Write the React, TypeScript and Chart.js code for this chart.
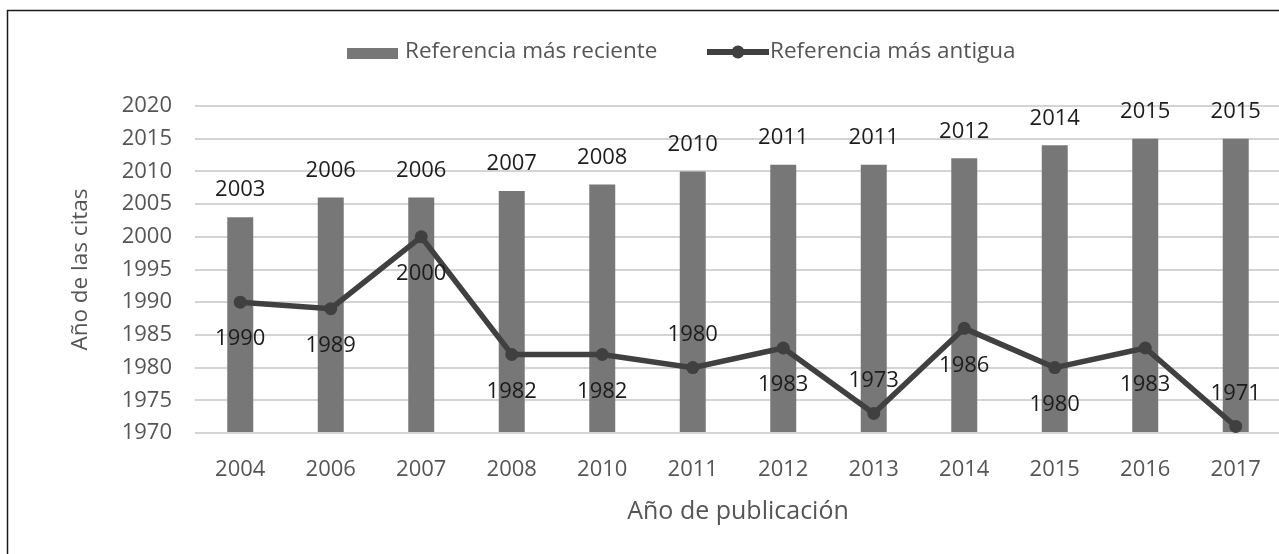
import React, { useEffect, useRef } from "react";
import { Chart, registerables } from "chart.js";

Chart.register(...registerables);

const categories = ["2004", "2006", "2007", "2008", "2010", "2011", "2012", "2013", "2014", "2015", "2016", "2017"];
const recentRefs = [2003, 2006, 2006, 2007, 2008, 2010, 2011, 2011, 2012, 2014, 2015, 2015];
const oldestRefs = [1990, 1989, 2000, 1982, 1982, 1980, 1983, 1973, 1986, 1980, 1983, 1971];
const oldestLabelSide = ["below", "below", "below", "below", "below", "above", "below", "above", "below", "below", "below", "above"];
const seriesNames = ["Referencia más reciente", "Referencia más antigua"];
const yAxisTitle = "Año de las citas";
const xAxisTitle = "Año de publicación";

const FONT = "'Open Sans', Lato, sans-serif";
const BAR_COLOR = "#777777";
const LINE_COLOR = "#404040";
const TEXT_COLOR = "#555555";
const LABEL_COLOR = "#1c1c1c";

export default function App() {
  const ref = useRef<HTMLCanvasElement | null>(null);

  useEffect(() => {
    if (!ref.current) return;

    const borderPlugin = {
      id: "frame",
      beforeDraw(chart: any) {
        const ctx = chart.ctx;
        ctx.save();
        ctx.strokeStyle = "#1a1a1a";
        ctx.lineWidth = 1.5;
        ctx.beginPath();
        ctx.moveTo(7.5, chart.height);
        ctx.lineTo(7.5, 10.5);
        ctx.lineTo(chart.width, 10.5);
        ctx.stroke();
        ctx.restore();
      },
    };

    const labelsPlugin = {
      id: "valueLabels",
      afterDatasetsDraw(chart: any) {
        const ctx = chart.ctx;
        ctx.save();
        ctx.font = `22px ${FONT}`;
        ctx.fillStyle = LABEL_COLOR;
        ctx.textAlign = "center";
        ctx.textBaseline = "middle";
        const barMeta = chart.getDatasetMeta(1);
        barMeta.data.forEach((el: any, i: number) => {
          ctx.fillText(String(recentRefs[i]), el.x, el.y - 27);
        });
        const lineMeta = chart.getDatasetMeta(0);
        lineMeta.data.forEach((el: any, i: number) => {
          const dy = oldestLabelSide[i] === "above" ? -33 : 37;
          ctx.fillText(String(oldestRefs[i]), el.x, el.y + dy);
        });
        ctx.restore();
      },
    };

    const legendPlugin = {
      id: "customLegend",
      afterDraw(chart: any) {
        const ctx = chart.ctx;
        ctx.save();
        const cy = 52;
        ctx.fillStyle = BAR_COLOR;
        ctx.fillRect(347, cy - 4, 51, 11);
        ctx.font = `22.5px ${FONT}`;
        ctx.fillStyle = TEXT_COLOR;
        ctx.textAlign = "left";
        ctx.textBaseline = "middle";
        ctx.fillText(seriesNames[0], 405, cy);
        ctx.strokeStyle = LINE_COLOR;
        ctx.lineWidth = 6;
        ctx.beginPath();
        ctx.moveTo(707, cy);
        ctx.lineTo(769, cy);
        ctx.stroke();
        ctx.fillStyle = LINE_COLOR;
        ctx.beginPath();
        ctx.arc(738, cy, 6.5, 0, Math.PI * 2);
        ctx.fill();
        ctx.fillStyle = TEXT_COLOR;
        ctx.fillText(seriesNames[1], 770, cy);
        ctx.restore();
      },
    };

    const chart = new Chart(ref.current, {
      type: "bar",
      data: {
        labels: categories,
        datasets: [
          {
            type: "line",
            label: seriesNames[1],
            data: oldestRefs,
            borderColor: LINE_COLOR,
            backgroundColor: LINE_COLOR,
            borderWidth: 5.5,
            pointRadius: 6.5,
            pointBackgroundColor: LINE_COLOR,
            pointBorderWidth: 0,
            tension: 0,
            order: 0,
          } as any,
          {
            type: "bar",
            label: seriesNames[0],
            data: recentRefs,
            backgroundColor: BAR_COLOR,
            borderWidth: 0,
            barPercentage: 0.287,
            categoryPercentage: 1,
            base: 1970,
            order: 1,
          } as any,
        ],
      },
      options: {
        responsive: false,
        animation: false,
        devicePixelRatio: 1,
        layout: { padding: { top: 106, right: 9, left: 0, bottom: 0 } },
        plugins: {
          legend: { display: false },
          tooltip: { enabled: false },
        },
        scales: {
          x: {
            grid: { display: false },
            border: { display: false },
            ticks: { color: TEXT_COLOR, font: { family: FONT, size: 22 }, padding: 16 },
            title: {
              display: true,
              text: xAxisTitle,
              color: TEXT_COLOR,
              font: { family: FONT, size: 25 },
              padding: { top: 0, bottom: 27 },
            },
            afterFit(s: any) {
              s.height = 121;
            },
          },
          y: {
            min: 1970,
            max: 2020,
            grid: { color: "#d4d4d4", lineWidth: 2, drawTicks: false },
            border: { display: false },
            ticks: {
              stepSize: 5,
              color: TEXT_COLOR,
              font: { family: FONT, size: 22 },
              padding: 23,
              callback: (v: any) => String(v),
            },
            title: {
              display: true,
              text: yAxisTitle,
              color: TEXT_COLOR,
              font: { family: FONT, size: 22.5 },
              padding: { top: 67, bottom: 0 },
            },
            afterFit(s: any) {
              s.width = 195;
            },
          },
        },
      } as any,
      plugins: [borderPlugin, labelsPlugin, legendPlugin],
    });

    return () => chart.destroy();
  }, []);

  return (
    <div
      style={{
        position: "fixed",
        left: 0,
        top: 0,
        width: 1279,
        height: 554,
        overflow: "hidden",
        background: "#ffffff",
      }}
    >
      <canvas ref={ref} width={1290} height={554} style={{ display: "block" }} />
    </div>
  );
}
